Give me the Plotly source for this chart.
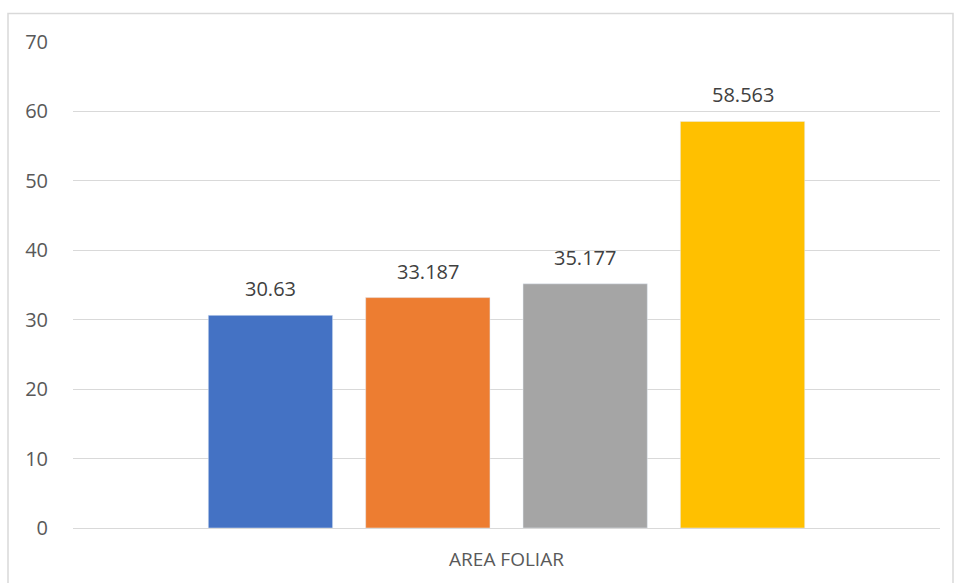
import plotly.graph_objects as go

categories = ["AREA FOLIAR"]
series_names = ["Serie 1", "Serie 2", "Serie 3", "Serie 4"]
series_values = [[30.63], [33.187], [35.177], [58.563]]
series_labels = ["30.63", "33.187", "35.177", "58.563"]
colors = ["#4472C4", "#ED7D31", "#A5A5A5", "#FFC000"]
y_ticks = [0, 10, 20, 30, 40, 50, 60, 70]

W, H = 954, 583
ml, mr, mt, mb = 73, 14, 42, 55
pw, ph = W - ml - mr, H - mt - mb
BARGAP, GROUPGAP = 0.274, 0.21
FONT = "Open Sans"

fig = go.Figure()
n = len(series_names)
slot = (1 - BARGAP) / n
for i, (name, vals, lab, col) in enumerate(zip(series_names, series_values, series_labels, colors)):
    fig.add_trace(go.Bar(x=categories, y=vals, name=name, marker_color=col))
    # data label above the bar, at the bar's centre in category units
    xc = -(1 - BARGAP) / 2 + slot * (i + 0.5)
    fig.add_annotation(x=xc, y=vals[0], xref="x", yref="y", text=lab, showarrow=False,
                       yanchor="bottom", yshift=11,
                       font=dict(family=FONT, size=20, color="#404040"))

fig.update_layout(
    width=W, height=H, barmode="group", bargap=BARGAP, bargroupgap=GROUPGAP,
    margin=dict(l=ml, r=mr, t=mt, b=mb),
    plot_bgcolor="white", paper_bgcolor="white", showlegend=False,
    font=dict(family=FONT, size=20, color="#595959"),
)
fig.update_yaxes(range=[0, 70], tickvals=y_ticks, showgrid=True, gridcolor="#D9D9D9",
                 gridwidth=1, zeroline=True, zerolinecolor="#D9D9D9", zerolinewidth=1,
                 showline=False, ticks="outside", ticklen=20, tickcolor="rgba(0,0,0,0)",
                 tickfont=dict(family=FONT, size=20, color="#595959"))
fig.update_xaxes(showgrid=False, showline=False, ticks="outside", ticklen=14,
                 tickcolor="rgba(0,0,0,0)", tickfont=dict(family=FONT, size=19, color="#595959"))

# chart border
x0 = (8 - ml) / pw
x1 = (953 - ml) / pw
y1 = (H - mb - 13.5) / ph
y0 = (H - mb - 600) / ph
fig.add_shape(type="rect", xref="paper", yref="paper", x0=x0, x1=x1, y0=y0, y1=y1,
              line=dict(color="#D9D9D9", width=1.5), fillcolor="rgba(0,0,0,0)", layer="below")

fig.write_html("out.html")
